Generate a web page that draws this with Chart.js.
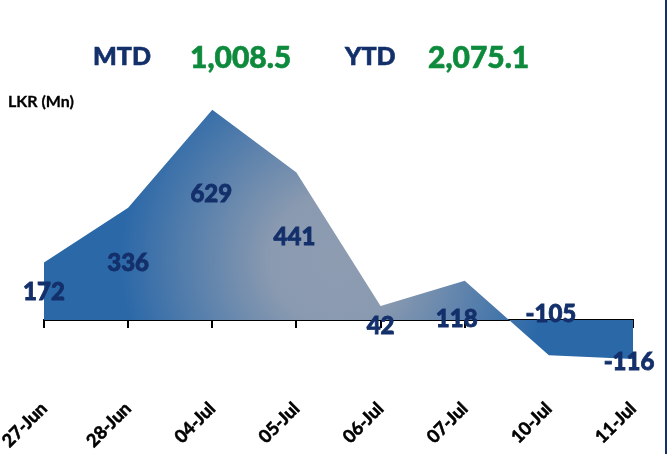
<!DOCTYPE html>
<html>
<head>
<meta charset="utf-8">
<script src="https://cdn.jsdelivr.net/npm/chart.js@4"></script>
<style>
  body { margin: 0; background: #fff; }
  #wrap { position: relative; width: 670px; height: 454px; overflow: hidden; font-family: "Lato", sans-serif; }
  #wrap canvas { position: absolute; left: 0; top: 0; }
  .t { position: absolute; font-weight: 900; white-space: nowrap; line-height: 1; -webkit-text-stroke: 0.6px currentColor; }
  .navy { color: #14306b; font-size: 25px; }
  .green { color: #0e8a3c; font-size: 30px; }
  #unit { left: 8px; top: 93px; font-size: 16px; color: #000; font-weight: bold; -webkit-text-stroke: 0.3px #000; }
  #edge { position: absolute; left: 665px; top: 0; width: 2px; height: 454px; background: #14306b; }
</style>
</head>
<body>
<div id="wrap">
  <canvas id="flowChart" width="670" height="454"></canvas>
  <div class="t navy" style="left:93px; top:43px;">MTD</div>
  <div class="t green" style="left:190px; top:41px;">1,008.5</div>
  <div class="t navy" style="left:345px; top:43px;">YTD</div>
  <div class="t green" style="left:428px; top:41px;">2,075.1</div>
  <div class="t" id="unit">LKR (Mn)</div>
  <div id="edge"></div>
</div>
<script>
// daily net flows, LKR Mn
const days = ['27-Jun', '28-Jun', '04-Jul', '05-Jul', '06-Jul', '07-Jul', '10-Jul', '11-Jul'];
const netFlow = [172, 336, 629, 441, 42, 118, -105, -116];

// where Excel put each value label, relative to its point
const labelShift = [[0, 30], [0, 56], [-1, 85], [-2, 65], [0, 20], [-8, 39], [2, -41], [-4, 3]];

const fontStack = '"Lato", sans-serif';

const valueLabels = {
    id: 'valueLabels',
    afterDatasetsDraw(chart) {
        const ctx = chart.ctx;
        const meta = chart.getDatasetMeta(0);
        ctx.save();
        ctx.font = '900 24px ' + fontStack;
        ctx.fillStyle = '#14306b';
        ctx.strokeStyle = '#14306b';
        ctx.lineWidth = 0.8;
        ctx.textAlign = 'center';
        ctx.textBaseline = 'middle';
        meta.data.forEach((pt, i) => {
            const s = labelShift[i];
            ctx.fillText(String(netFlow[i]), pt.x + s[0], pt.y + s[1]);
            ctx.strokeText(String(netFlow[i]), pt.x + s[0], pt.y + s[1]);
        });
        ctx.restore();
    }
};

// grey in the middle of the shape, fading out to blue
function areaFill(context) {
    const area = context.chart.chartArea;
    if (!area) return '#2e6caa';
    const g = context.chart.ctx.createRadialGradient(335, 260, 0, 335, 260, 215);
    g.addColorStop(0, '#8d9cb1');
    g.addColorStop(0.3, '#8a9ab0');
    g.addColorStop(1, '#2b68a8');
    return g;
}

const ctx = document.getElementById('flowChart').getContext('2d');
new Chart(ctx, {
    type: 'line',
    data: {
        labels: days,
        datasets: [{
            data: netFlow,
            fill: 'origin',
            backgroundColor: areaFill,
            borderWidth: 0,
            pointRadius: 0,
            tension: 0
        }]
    },
    options: {
        responsive: false,
        animation: false,
        layout: { padding: { left: 44, right: 37, top: 86, bottom: 0 } },
        plugins: { legend: { display: false }, tooltip: { enabled: false } },
        scales: {
            y: { display: false, min: -200, max: 700 },
            x: {
                position: { y: 0 },
                grid: { drawOnChartArea: false, drawTicks: true, tickLength: 7, color: '#000', lineWidth: 2 },
                border: { display: true, color: '#000', width: 2 },
                ticks: { display: false }
            },
            x2: {
                type: 'category',
                position: 'bottom',
                grid: { display: false, drawTicks: false },
                border: { display: false },
                afterFit: s => {
                    s.height = 67;
                    // let the layout padding alone decide the plot edges
                    s.paddingLeft = 0;
                    s.paddingRight = 0;
                },
                ticks: {
                    autoSkip: false,
                    minRotation: 45,
                    maxRotation: 45,
                    padding: 11,
                    color: '#000',
                    textStrokeColor: '#000',
                    textStrokeWidth: 0.6,
                    font: { family: fontStack, size: 18, weight: 'bold' }
                }
            }
        }
    },
    plugins: [valueLabels]
});
</script>
</body>
</html>
